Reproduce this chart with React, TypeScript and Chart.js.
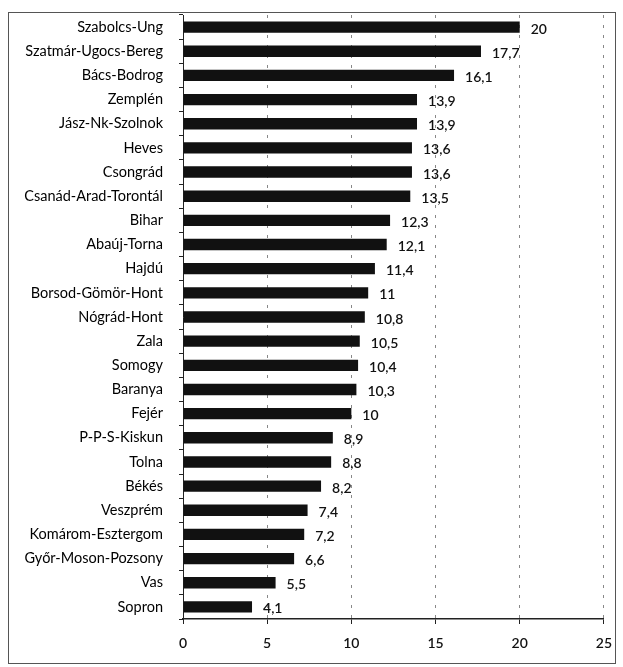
import React, { useEffect, useRef } from "react";
import { Chart, registerables } from "chart.js";

Chart.register(...registerables);

const categories: string[] = [
  "Szabolcs-Ung",
  "Szatmár-Ugocs-Bereg",
  "Bács-Bodrog",
  "Zemplén",
  "Jász-Nk-Szolnok",
  "Heves",
  "Csongrád",
  "Csanád-Arad-Torontál",
  "Bihar",
  "Abaúj-Torna",
  "Hajdú",
  "Borsod-Gömör-Hont",
  "Nógrád-Hont",
  "Zala",
  "Somogy",
  "Baranya",
  "Fejér",
  "P-P-S-Kiskun",
  "Tolna",
  "Békés",
  "Veszprém",
  "Komárom-Esztergom",
  "Győr-Moson-Pozsony",
  "Vas",
  "Sopron",
];

const values: number[] = [
  20, 17.7, 16.1, 13.9, 13.9, 13.6, 13.6, 13.5, 12.3, 12.1, 11.4, 11, 10.8,
  10.5, 10.4, 10.3, 10, 8.9, 8.8, 8.2, 7.4, 7.2, 6.6, 5.5, 4.1,
];

const xTicks: number[] = [0, 5, 10, 15, 20, 25];

const FONT = "Lato, 'Open Sans', sans-serif";

const fmt = (v: number) => String(v).replace(".", ",");

const valueLabels = {
  id: "valueLabels",
  afterDatasetsDraw(chart: any) {
    const ctx = chart.ctx;
    const meta = chart.getDatasetMeta(0);
    ctx.save();
    ctx.font = `600 14px ${FONT}`;
    ctx.fillStyle = "#111";
    ctx.textAlign = "left";
    ctx.textBaseline = "middle";
    meta.data.forEach((bar: any, i: number) => {
      ctx.fillText(fmt(values[i]), bar.x + 11, bar.y + 2);
    });
    ctx.restore();
  },
};

export default function App() {
  const ref = useRef<HTMLCanvasElement | null>(null);

  useEffect(() => {
    if (!ref.current) return;
    const chart = new Chart(ref.current, {
      type: "bar",
      data: {
        labels: categories,
        datasets: [
          {
            data: values,
            backgroundColor: "#111111",
            borderWidth: 0,
            categoryPercentage: 1,
            barPercentage: 0.47,
          },
        ],
      },
      options: {
        indexAxis: "y",
        animation: false,
        responsive: false,
        layout: { padding: { top: 15, right: 19, left: 0, bottom: 0 } },
        plugins: {
          legend: { display: false },
          tooltip: { enabled: false },
        },
        scales: {
          x: {
            min: 0,
            max: 25,
            afterBuildTicks: (scale: any) => {
              scale.ticks = xTicks.map((v) => ({ value: v }));
            },
            afterFit: (scale: any) => {
              scale.height = 48;
            },
            ticks: {
              color: "#111",
              font: { family: FONT, size: 14, weight: "600" },
              padding: 11,
            },
            grid: {
              display: true,
              drawOnChartArea: true,
              drawTicks: true,
              tickLength: 5,
              color: (c: any) => (c.tick && c.tick.value === 0 ? "rgba(0,0,0,0)" : "#888"),
              tickColor: "#222",
              lineWidth: 1,
            },
            border: { display: true, color: "#222", width: 1.5, dash: [3, 7] },
          },
          y: {
            afterFit: (scale: any) => {
              scale.width = 183;
              scale.paddingTop = 0;
              scale.paddingBottom = 0;
            },
            ticks: {
              color: "#000",
              font: { family: FONT, size: 14.5 },
              padding: 16,
              autoSkip: false,
            },
            border: { display: true, color: "#222", width: 1 },
            grid: {
              drawOnChartArea: false,
              drawTicks: true,
              tickLength: 4,
              tickColor: "#222",
              offset: true,
            },
          },
        },
      },
      plugins: [valueLabels],
    } as any);
    return () => chart.destroy();
  }, []);

  return (
    <div style={{ position: "absolute", left: 0, top: 0, width: 623, height: 667, background: "#fff" }}>
      <div
        style={{
          position: "absolute",
          left: 8,
          top: 12,
          width: 608,
          height: 652,
          border: "1px solid #555",
          boxSizing: "border-box",
        }}
      />
      <canvas
        ref={ref}
        width={623}
        height={667}
        style={{ position: "absolute", left: 0, top: 0, width: 623, height: 667 }}
      />
    </div>
  );
}
